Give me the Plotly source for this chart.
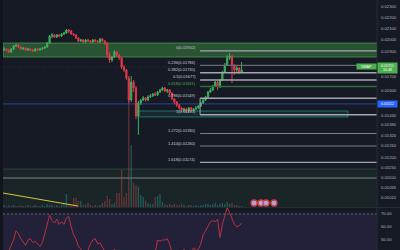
import numpy as np
import plotly.graph_objects as go

# ---------------- data ----------------
closes = [
    0.01918, 0.01909, 0.01893, 0.01918, 0.01943, 0.01951, 0.01934, 0.01918, 0.01926, 0.01909,
    0.01918, 0.01909, 0.01901, 0.01918, 0.01909, 0.01918, 0.01926, 0.01934, 0.01968, 0.02029,
    0.02038, 0.02020, 0.02038, 0.02029, 0.02046, 0.02055, 0.02082, 0.02073, 0.02046, 0.02038,
    0.02011, 0.01985, 0.01994, 0.01977, 0.01994, 0.01985, 0.01977, 0.01994, 0.01985, 0.01977,
    0.02003, 0.01985, 0.01968, 0.01869, 0.01829, 0.01852, 0.01893, 0.01869, 0.01844, 0.01774,
    0.01751, 0.01691, 0.01538, 0.01662, 0.01620, 0.01435, 0.01518, 0.01538, 0.01551, 0.01538,
    0.01558, 0.01565, 0.01578, 0.01571, 0.01592, 0.01606, 0.01620, 0.01599, 0.01606, 0.01585,
    0.01545, 0.01525, 0.01505, 0.01486, 0.01473, 0.01479, 0.01466, 0.01486, 0.01473, 0.01479,
    0.01486, 0.01498, 0.01518, 0.01538, 0.01558, 0.01592, 0.01606, 0.01634, 0.01662, 0.01627,
    0.01677, 0.01736, 0.01789, 0.01844, 0.01860, 0.01782, 0.01751, 0.01766, 0.01736, 0.01751,
]
highs = [
    0.01934, 0.01926, 0.01918, 0.01926, 0.01951, 0.01960, 0.01960, 0.01943, 0.01934, 0.01934,
    0.01926, 0.01926, 0.01918, 0.01926, 0.01926, 0.01926, 0.01934, 0.01943, 0.01977, 0.02038,
    0.02055, 0.02046, 0.02046, 0.02046, 0.02055, 0.02064, 0.02091, 0.02091, 0.02082, 0.02055,
    0.02046, 0.02020, 0.02003, 0.02003, 0.02003, 0.02003, 0.01994, 0.02003, 0.02003, 0.01994,
    0.02011, 0.02011, 0.01994, 0.01977, 0.01893, 0.01860, 0.01909, 0.01901, 0.01877, 0.01852,
    0.01789, 0.01759, 0.01706, 0.01706, 0.01677, 0.01634, 0.01531, 0.01545, 0.01565, 0.01558,
    0.01571, 0.01578, 0.01585, 0.01592, 0.01599, 0.01613, 0.01627, 0.01627, 0.01613, 0.01613,
    0.01592, 0.01551, 0.01531, 0.01511, 0.01492, 0.01486, 0.01486, 0.01492, 0.01492, 0.01486,
    0.01498, 0.01505, 0.01525, 0.01545, 0.01565, 0.01599, 0.01620, 0.01641, 0.01670, 0.01670,
    0.01684, 0.01744, 0.01805, 0.01869, 0.01885, 0.01869, 0.01797, 0.01782, 0.01774, 0.01813,
]
lows = [
    0.01901, 0.01893, 0.01885, 0.01885, 0.01909, 0.01934, 0.01926, 0.01909, 0.01909, 0.01901,
    0.01901, 0.01901, 0.01893, 0.01893, 0.01901, 0.01901, 0.01909, 0.01918, 0.01926, 0.01960,
    0.02011, 0.02011, 0.02011, 0.02020, 0.02020, 0.02038, 0.02046, 0.02055, 0.02038, 0.02029,
    0.02003, 0.01977, 0.01977, 0.01968, 0.01968, 0.01977, 0.01968, 0.01968, 0.01977, 0.01968,
    0.01968, 0.01977, 0.01951, 0.01844, 0.01805, 0.01813, 0.01844, 0.01852, 0.01829, 0.01759,
    0.01736, 0.01677, 0.01518, 0.01525, 0.01592, 0.01416, 0.01322, 0.01505, 0.01531, 0.01525,
    0.01531, 0.01551, 0.01558, 0.01565, 0.01565, 0.01585, 0.01599, 0.01592, 0.01585, 0.01571,
    0.01538, 0.01511, 0.01492, 0.01473, 0.01460, 0.01460, 0.01454, 0.01460, 0.01460, 0.01466,
    0.01473, 0.01479, 0.01492, 0.01511, 0.01531, 0.01551, 0.01585, 0.01599, 0.01627, 0.01606,
    0.01620, 0.01670, 0.01729, 0.01782, 0.01829, 0.01655, 0.01714, 0.01736, 0.01721, 0.01729,
]
first_open = 0.01909
opens = [first_open] + closes[:-1]

volume = [
    2, 1, 2, 1, 2, 1, 1, 2, 1, 1,
    2, 1, 1, 2, 1, 1, 2, 1, 3, 2,
    2, 1, 2, 1, 2, 3, 13, 3, 2, 9,
    9, 6, 6, 2, 2, 4, 2, 1, 2, 1,
    2, 4, 6, 11, 8, 3, 4, 14, 14, 37,
    10, 14, 112, 62, 24, 22, 20, 12, 10, 6,
    4, 3, 3, 10, 11, 13, 5, 3, 2, 3,
    2, 3, 2, 2, 3, 2, 1, 2, 2, 1,
    2, 1, 2, 2, 3, 3, 2, 3, 4, 2,
    3, 4, 3, 5, 3, 4, 2, 2, 1, 1,
]

rsi = [
    38, 40, 41, 46, 50, 57, 55, 51, 48, 46,
    50, 51, 48, 49, 47, 45, 48, 55, 63, 69,
    65, 63, 66, 62, 64, 62, 67, 68, 60, 54,
    51, 45, 43, 40, 41, 42, 47, 50, 51, 47,
    48, 44, 40, 36, 34, 40, 43, 38, 35, 30,
    28, 25, 22, 15, 25, 15, 13, 25, 30, 29,
    33, 35, 38, 40, 50, 49, 50, 50, 51, 47,
    40, 37, 35, 33, 38, 43, 40, 42, 40, 44,
    42, 43, 47, 54, 57, 60, 64, 65, 64, 66,
    52, 62, 68, 75, 71, 67, 62, 60, 61, 63,
]
idx = list(range(len(closes)))

price_ticks = [0.02300, 0.02200, 0.02100, 0.02000, 0.01900, 0.01700, 0.01600,
               0.01440, 0.01380, 0.01320, 0.01260, 0.01200, 0.01150, 0.01100,
               0.01055, 0.01010]
price_tick_text = [f"{v:.5f}" for v in price_ticks]
rsi_ticks = [70, 60, 50]
rsi_tick_text = ["70.00", "60.00", "50.00"]

fib_ratios = ["0", "0.236", "0.382", "0.5", "0.618", "0.786", "1", "1.272", "1.414", "1.618"]
fib_prices = [0.01902, 0.01786, 0.01730, 0.01677, 0.01631, 0.01549, 0.01443,
              0.01330, 0.01260, 0.01174]
fib_start = 81.7

supply_zone = [0.01852, 0.01968]
demand_box_x = [55.8, 143.3]
demand_box_y = [0.01429, 0.01466]
blue_level = 0.01512
gray_level = 0.01097
lower_zone = [0.00960, 0.011406]
dotted_level = 0.01774
last_price = 0.01751
countdown = "10:48"

vol_trend_x = [-0.42, 30.8]
vol_trend_y = [14, 1]

event_x = [104.2, 107.1, 109.2, 112.5]
event_price = 0.009846

# ---------------- layout constants ----------------
X_MIN, X_MAX = -0.4167, 155.4167
P_TOP, P_BOT = 0.023708, 0.009676
BG = "#161a25"
GREEN = "#3fae5c"
RED = "#e0394b"
TXT = "#b2b5be"
FONT = "Liberation Sans"

fig = go.Figure()

vol_colors = ["rgba(38,166,154,0.42)" if c >= o else "rgba(239,83,80,0.36)"
              for o, c in zip(opens, closes)]
fig.add_trace(go.Bar(x=idx, y=volume, marker=dict(color=vol_colors, line=dict(width=0)),
                     width=0.55, yaxis="y", xaxis="x"))
fig.add_trace(go.Scatter(x=vol_trend_x, y=vol_trend_y, mode="lines",
                         line=dict(color="#d8c83a", width=1), yaxis="y"))

fig.add_trace(go.Candlestick(
    x=idx, open=opens, high=highs, low=lows, close=closes,
    increasing=dict(line=dict(color=GREEN, width=1), fillcolor=GREEN),
    decreasing=dict(line=dict(color=RED, width=1), fillcolor=RED),
    whiskerwidth=0, yaxis="y2", xaxis="x"))

fig.add_trace(go.Scatter(x=event_x, y=[event_price] * len(event_x), mode="markers",
                         marker=dict(size=6, color="#9aaceb",
                                     line=dict(color="#e53935", width=1.3)),
                         yaxis="y2"))

fig.add_trace(go.Scatter(x=idx, y=rsi, mode="lines",
                         line=dict(color="#b8323f", width=1), yaxis="y3"))

shapes = []
# lower dark-green zone
shapes.append(dict(type="rect", xref="x", yref="y2", x0=X_MIN, x1=X_MAX,
                   y0=lower_zone[0], y1=lower_zone[1], layer="below",
                   fillcolor="rgba(76,175,80,0.08)", line=dict(width=0)))
shapes.append(dict(type="line", xref="x", yref="y2", x0=X_MIN, x1=X_MAX,
                   y0=lower_zone[1], y1=lower_zone[1],
                   line=dict(color="rgba(60,140,110,0.35)", width=1)))
# supply zone
shapes.append(dict(type="rect", xref="x", yref="y2", x0=X_MIN, x1=X_MAX,
                   y0=supply_zone[0], y1=supply_zone[1], layer="below",
                   fillcolor="rgba(76,175,80,0.38)",
                   line=dict(color="rgba(90,190,95,0.55)", width=1)))
# demand box
shapes.append(dict(type="rect", xref="x", yref="y2", x0=demand_box_x[0], x1=demand_box_x[1],
                   y0=demand_box_y[0], y1=demand_box_y[1], layer="below",
                   fillcolor="rgba(38,166,154,0.10)",
                   line=dict(color="rgba(38,150,130,0.7)", width=1)))
# blue level
shapes.append(dict(type="line", xref="x", yref="y2", x0=X_MIN, x1=X_MAX,
                   y0=blue_level, y1=blue_level, layer="below",
                   line=dict(color="rgba(50,75,190,0.8)", width=1)))
# gray level
shapes.append(dict(type="line", xref="x", yref="y2", x0=X_MIN, x1=X_MAX,
                   y0=gray_level, y1=gray_level,
                   line=dict(color="#5f626d", width=1.5)))
# dotted level
shapes.append(dict(type="line", xref="x", yref="y2", x0=X_MIN, x1=fib_start - 8,
                   y0=dotted_level, y1=dotted_level, layer="below",
                   line=dict(color="#2c303c", width=1, dash="1px,2px")))
# fib lines
for r, p in zip(fib_ratios, fib_prices):
    if r == "0.618":
        col, w = "#2f6b3c", 1.5
    elif r == "0.236":
        col, w = "#666a75", 1.2
    elif r in ("1.272", "1.414"):
        col, w = "#7c7f89", 1.2
    else:
        col, w = "#a3a6ae", 1.4
    shapes.append(dict(type="line", xref="x", yref="y2", x0=fib_start, x1=X_MAX,
                       y0=p, y1=p, line=dict(color=col, width=w)))
shapes.append(dict(type="line", xref="x", yref="y2", x0=fib_start, x1=fib_start,
                   y0=fib_prices[6], y1=fib_prices[5],
                   line=dict(color="#a3a6ae", width=1)))
# RSI background & 70 band
shapes.append(dict(type="rect", xref="x", yref="y3", x0=X_MIN, x1=X_MAX,
                   y0=42.3, y1=70, layer="below",
                   fillcolor="rgba(126,87,194,0.13)", line=dict(width=0)))
shapes.append(dict(type="line", xref="x", yref="y3", x0=X_MIN, x1=X_MAX,
                   y0=70, y1=70, line=dict(color="#6c6f7a", width=1, dash="2px,2px")))
# pane separator and price-scale border
shapes.append(dict(type="line", xref="paper", yref="paper", x0=0, x1=1,
                   y0=0.17, y1=0.17, line=dict(color="#262a35", width=1)))
shapes.append(dict(type="line", xref="paper", yref="paper", x0=377 / 400, x1=377 / 400,
                   y0=0, y1=1, line=dict(color="#262a35", width=1)))
shapes.append(dict(type="rect", xref="paper", yref="paper", x0=0, x1=3 / 400,
                   y0=0, y1=1, fillcolor="#11141d", line=dict(width=0)))

annotations = []
for r, p in zip(fib_ratios, fib_prices):
    annotations.append(dict(x=fib_start - 0.9, y=np.log10(p), xref="x", yref="y2",
                            xanchor="right", yanchor="middle", yshift=3,
                            text=f"{r}({p:.5f})", showarrow=False,
                            font=dict(family=FONT, size=4,
                                      color="#4caf50" if r == "0.618" else "#c9cbd1")))
annotations.append(dict(x=377 / 400, xref="paper", y=np.log10(0.01768), yref="y2",
                        xanchor="left", yanchor="middle", showarrow=False,
                        text=f"{last_price:.5f}<br>{countdown}", bgcolor="#4caf50",
                        width=19, height=10, borderpad=0,
                        font=dict(family=FONT, size=3.6, color="white")))
annotations.append(dict(x=377 / 400, xref="paper", y=np.log10(0.01778), yref="y2",
                        xanchor="right", yanchor="middle", showarrow=False,
                        text="VWAP", bgcolor="#4caf50", width=19, height=5, borderpad=0,
                        font=dict(family=FONT, size=3.6, color="white")))
annotations.append(dict(x=377 / 400, xref="paper", y=np.log10(blue_level), yref="y2",
                        xanchor="left", yanchor="middle", showarrow=False,
                        text=f"{blue_level:.5f}", bgcolor="#2962ff", width=19, height=6,
                        borderpad=0, font=dict(family=FONT, size=3.6, color="white")))

fig.update_layout(
    width=400, height=250, margin=dict(l=0, r=0, t=0, b=0),
    paper_bgcolor=BG, plot_bgcolor=BG, showlegend=False, hovermode=False,
    font=dict(family=FONT, size=4, color=TXT),
    shapes=shapes, annotations=annotations,
    xaxis=dict(domain=[3 / 400, 377 / 400], range=[X_MIN, X_MAX], visible=False,
               rangeslider=dict(visible=False), anchor="y"),
    yaxis=dict(domain=[0.172, 1], range=[0, 207], visible=False, anchor="x"),
    yaxis2=dict(overlaying="y", type="log", side="right", anchor="x",
                range=[np.log10(P_BOT), np.log10(P_TOP)],
                tickvals=price_ticks, ticktext=price_tick_text, showgrid=False,
                zeroline=False, ticks="", ticklabelstandoff=3,
                tickfont=dict(family=FONT, size=4.2, color=TXT)),
    yaxis3=dict(domain=[0, 0.168], range=[42.3, 74.6], side="right", anchor="x",
                tickvals=rsi_ticks, ticktext=rsi_tick_text, showgrid=False,
                zeroline=False, ticks="", ticklabelstandoff=3,
                tickfont=dict(family=FONT, size=4.2, color=TXT)),
)

fig.write_html("out.html")
